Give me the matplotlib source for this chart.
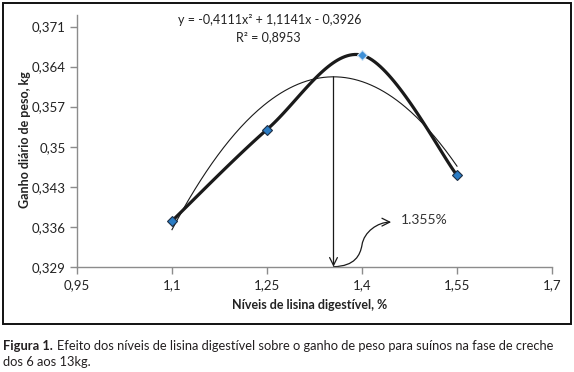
import numpy as np
import matplotlib.pyplot as plt
from matplotlib.path import Path
from matplotlib.patches import FancyArrowPatch, Rectangle

plt.rcParams['font.family'] = ['Lato', 'DejaVu Sans']

# lisina digestível (%) vs ganho diário de peso (kg)
lisina = [1.10, 1.25, 1.40, 1.55]
ganho = [0.337, 0.353, 0.366, 0.345]

# quadratic trendline reported on the chart
coef = [-0.4111, 1.1141, -0.3926]
otimo = 1.355

xticks = [0.95, 1.1, 1.25, 1.4, 1.55, 1.7]
xticklabels = ['0,95', '1,1', '1,25', '1,4', '1,55', '1,7']
yticks = [0.329, 0.336, 0.343, 0.35, 0.357, 0.364, 0.371]
yticklabels = ['0,329', '0,336', '0,343', '0,35', '0,357', '0,364', '0,371']

xlim = (0.95, 1.7)
ylim = (0.329, 0.37305)


def smooth(xs, ys, n=40):
    # excel-like smoothed line: bezier through points, control at 1/6 of neighbours
    xs = np.asarray(xs, float)
    ys = np.asarray(ys, float)
    sx = (xlim[1] - xlim[0])
    sy = (ylim[1] - ylim[0])
    px, py = (xs - xlim[0]) / sx, (ys - ylim[0]) / sy
    P = np.column_stack([px, py])
    out = []
    t = np.linspace(0, 1, n)[:, None]
    for i in range(len(P) - 1):
        p0 = P[i - 1] if i > 0 else P[i]
        p3 = P[i + 2] if i + 2 < len(P) else P[i + 1]
        c1 = P[i] + (P[i + 1] - p0) / 6
        c2 = P[i + 1] - (p3 - P[i]) / 6
        seg = ((1 - t) ** 3) * P[i] + 3 * ((1 - t) ** 2) * t * c1 \
            + 3 * (1 - t) * t ** 2 * c2 + t ** 3 * P[i + 1]
        out.append(seg)
    out = np.vstack(out)
    return out[:, 0] * sx + xlim[0], out[:, 1] * sy + ylim[0]


fig = plt.figure(figsize=(5.74, 3.72), dpi=100)
ax = fig.add_axes([0.1341, 0.283, 0.8276, 0.677])

sx_, sy_ = smooth(lisina, ganho)
ax.plot(sx_, sy_, color='#1a1a1a', lw=2.3, zorder=3, solid_capstyle='round')

xt = np.linspace(1.1, 1.55, 200)
ax.plot(xt, np.polyval(coef, xt), color='#1a1a1a', lw=0.8, zorder=2)

ax.plot(lisina[:2] + lisina[3:], ganho[:2] + ganho[3:], 'D', ms=5.5,
        color='#2b7cc4', mec='#1e2f45', mew=0.8, zorder=4)
ax.plot(lisina[2], ganho[2], 'D', ms=5, color='#3d8fd6', mec='#cfe3f5',
        mew=0.8, zorder=4)

# optimum arrow
ytop = np.polyval(coef, otimo)
ax.annotate('', xy=(otimo, ylim[0]), xytext=(otimo, ytop),
            arrowprops=dict(arrowstyle='->', color='#1a1a1a', lw=0.9,
                            mutation_scale=14, shrinkA=0, shrinkB=0),
            zorder=3)

verts = [(1.355, 0.3290), (1.389, 0.3291), (1.397, 0.3310), (1.400, 0.3328),
         (1.403, 0.3351), (1.425, 0.3368), (1.446, 0.3368)]
codes = [Path.MOVETO, Path.CURVE4, Path.CURVE4, Path.CURVE4,
         Path.CURVE4, Path.CURVE4, Path.CURVE4]
curva = FancyArrowPatch(path=Path(verts, codes), arrowstyle='->',
                        mutation_scale=14, color='#1a1a1a', lw=0.9,
                        transform=ax.transData, clip_on=False)
ax.add_patch(curva)
ax.text(1.461, 0.3372, '1.355%', fontsize=10, color='#333333', va='center')

ax.set_xlim(*xlim)
ax.set_ylim(*ylim)
ax.set_xticks(xticks)
ax.set_xticklabels(xticklabels)
ax.set_yticks(yticks)
ax.set_yticklabels(yticklabels)
for s in ['top', 'right']:
    ax.spines[s].set_visible(False)
for s in ['left', 'bottom']:
    ax.spines[s].set_color('#8c8c8c')
    ax.spines[s].set_linewidth(1)
ax.tick_params(colors='#8c8c8c', labelcolor='#222222', labelsize=9.5,
               length=5, width=1)
ax.tick_params(axis='x', pad=4)
ax.tick_params(axis='y', pad=3)

fig.text(0.0436, 0.624, 'Ganho diário de peso, kg', rotation=90, fontsize=9,
         fontweight='bold', ha='center', va='center', color='#222222')
fig.text(0.54, 1 - 305 / 372, 'Níveis de lisina digestível, %', fontsize=9,
         fontweight='bold', ha='center', va='center', color='#222222')

fig.text(270 / 574, 1 - 20 / 372, 'y = -0,4111x² + 1,1141x - 0,3926',
         fontsize=9, ha='center', va='center', color='#222222')
fig.text(268 / 574, 1 - 37 / 372, 'R² = 0,8953', fontsize=9, ha='center',
         va='center', color='#222222')

fig.patches.append(Rectangle((3 / 574, 1 - 324 / 372), 568 / 574, 321 / 372,
                             transform=fig.transFigure, fill=False,
                             edgecolor='#111111', lw=1.4))

# caption
fig.text(3 / 574, 1 - 346 / 372, 'Figura 1.', fontsize=9.3,
         fontweight='bold', color='#231f20', va='center')
fig.text(57 / 574, 1 - 346 / 372,
         'Efeito dos níveis de lisina digestível sobre o ganho de peso para suínos na fase de creche',
         fontsize=9.3, color='#231f20', va='center')
fig.text(3 / 574, 1 - 362 / 372, 'dos 6 aos 13kg.', fontsize=9.3,
         color='#231f20', va='center')

fig.savefig('out.png', dpi=100)
